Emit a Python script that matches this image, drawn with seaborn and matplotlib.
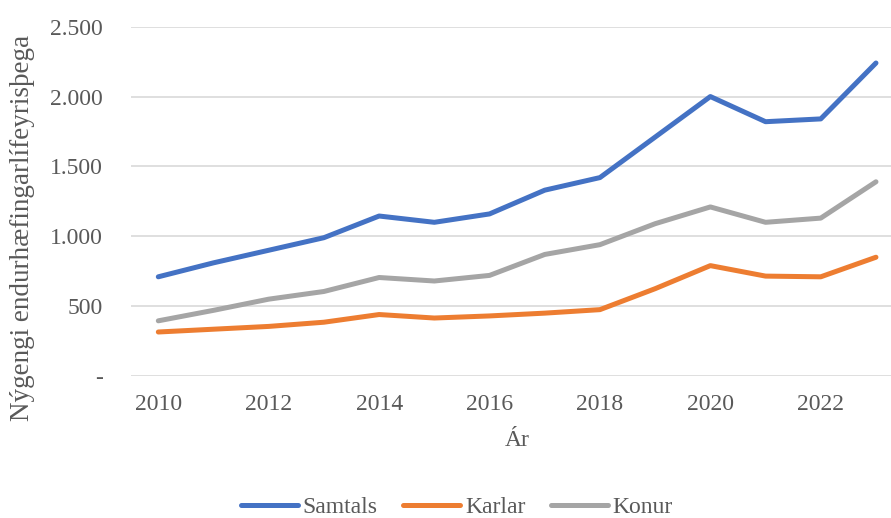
import matplotlib
matplotlib.use("Agg")
import matplotlib.pyplot as plt
from matplotlib.ticker import FuncFormatter
import seaborn as sns
import pandas as pd

# Gögn
ar = list(range(2010, 2024))
samtals = [710, 810, 900, 990, 1145, 1100, 1160, 1330, 1420, 1710, 2000, 1820, 1840, 2240]
karlar = [315, 335, 355, 385, 440, 415, 430, 450, 475, 625, 790, 715, 710, 850]
konur = [395, 470, 550, 605, 705, 680, 720, 870, 940, 1090, 1210, 1100, 1130, 1390]

df = pd.DataFrame({
    'Ár': ar * 3,
    'Fjöldi': samtals + karlar + konur,
    'Hópur': ['Samtals'] * len(ar) + ['Karlar'] * len(ar) + ['Konur'] * len(ar),
})

sns.set_style("white")
plt.rcParams['font.family'] = ['Liberation Serif', 'DejaVu Serif']
grar = '#595959'

fig = plt.figure(figsize=(8.91, 5.18), dpi=100)
ax = fig.add_axes([0.1467, 0.2741, 1.0141 - 0.1467, 0.9485 - 0.2741])

litir = {'Samtals': '#4472C4', 'Karlar': '#ED7D31', 'Konur': '#A5A5A5'}
sns.lineplot(data=df, x='Ár', y='Fjöldi', hue='Hópur', palette=litir,
             linewidth=3.6, ax=ax, legend=False, solid_capstyle='round')

ax.set_xlim(2009.5, 2023.5)
ax.set_ylim(0, 2500)
ax.set_xticks(range(2010, 2024, 2))
ax.set_yticks(range(0, 2501, 500))
ax.yaxis.set_major_formatter(FuncFormatter(
    lambda v, p: '-' if v == 0 else f'{int(v):,}'.replace(',', '.')))
ax.grid(axis='y', color='#d9d9d9', linewidth=1.2)
ax.set_axisbelow(True)
for s in ax.spines.values():
    s.set_visible(False)
ax.tick_params(axis='both', length=0, labelsize=17, colors=grar)
ax.tick_params(axis='y', pad=20)
ax.tick_params(axis='x', pad=13)
ax.set_xlabel('')
ax.set_ylabel('')

fig.text(23 / 891, 1 - 228 / 518, 'Nýgengi endurhæfingarlífeyrisþega', rotation=90,
         ha='center', va='center', fontsize=19.5, color=grar)
fig.text(517 / 891, 1 - 440 / 518, 'Ár', ha='center', va='center', fontsize=17, color=grar)

handles = [plt.Line2D([], [], color=litir[k], linewidth=3.6, solid_capstyle='round')
           for k in ['Samtals', 'Karlar', 'Konur']]
leg = fig.legend(handles, ['Samtals', 'Karlar', 'Konur'], loc='center',
                 bbox_to_anchor=(457 / 891, 1 - 507 / 518), ncol=3, frameon=False,
                 fontsize=17, handlelength=2.4, handletextpad=0.2, columnspacing=1.1,
                 borderpad=0)
for t in leg.get_texts():
    t.set_color(grar)

fig.savefig('out.png', dpi=100)
